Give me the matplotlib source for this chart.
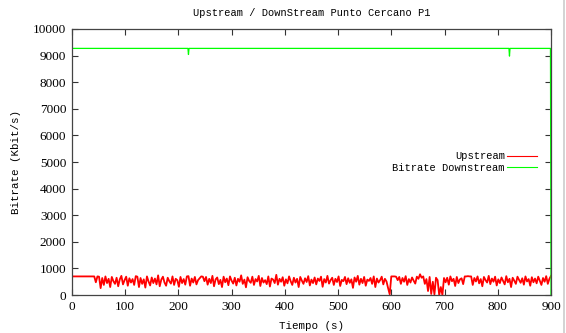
import matplotlib
matplotlib.use("Agg")
import matplotlib.pyplot as plt
from matplotlib.lines import Line2D
import numpy as np

# Upstream bitrate (Kbit/s), one sample every 3 s from 0 to 900 s
up_start = [700] * 15 + [480, 700, 690]
up_seg1 = [260, 640, 380, 700, 450, 610, 300, 680, 520, 420,
           650, 330, 590, 720, 400, 560, 690, 350, 630, 470,
           600, 380]
up_gap1 = [710, 690]
up_seg2 = [300, 640, 420, 590, 280, 700, 510, 360, 660, 450,
           620, 400, 740, 330, 580, 690, 470, 350, 650, 520,
           430, 700, 380, 610, 560, 310, 680, 450, 600, 390]
up_gap2 = [700, 710]
up_seg3 = [350, 620, 470, 680, 400, 560, 630]
up_gap3 = [700, 690]
up_seg4 = [520, 680, 390, 610, 450, 720, 330, 590, 660, 410,
           570, 300, 690, 480, 620, 370, 700, 540, 430, 650,
           360, 610, 500, 740, 420, 580, 290, 670, 530, 460,
           690, 380, 600, 510, 720, 340, 640, 470, 560, 410,
           700, 320, 620, 580, 450, 760, 390, 610, 500, 670,
           350, 590, 440, 700, 520, 380, 650, 470, 610, 300,
           680, 540, 420, 630, 490, 710, 360, 580, 450, 660,
           400, 620, 530, 690, 310, 600, 470, 720, 430, 560,
           650, 380, 610, 490, 700, 340, 570, 520, 680, 410,
           630, 460, 590, 270, 660, 500, 720, 390, 610, 450,
           680, 350, 580, 530, 640, 420, 700, 300, 620, 470,
           560, 690, 400, 610, 510, 260]
up_drop = [30, 700, 700, 700, 690]
up_seg5 = [560, 680, 420, 640, 500, 710, 380, 600, 470, 660, 540, 430, 690, 610]
up_dips = [780, 650, 700, 420, 600, 150, 680, 40, 500, 20, 650, 560, 0, 300, 0, 640]
up_seg6 = [480, 650, 390, 700, 520, 610, 340, 680, 450, 590, 630, 410]
up_gap4 = [700, 700, 710, 700, 700]
up_seg7 = [380, 640, 510, 700, 440, 600, 330, 680, 560, 470,
           720, 410, 620, 500, 690, 360, 590, 450, 660, 530,
           400, 710, 480, 610, 300, 650, 540, 420, 690, 570,
           460, 630, 390, 700, 510, 600, 350, 670, 480, 620,
           440, 690, 530, 380, 640, 500, 710, 420, 610, 720]

up_rate = (up_start + up_seg1 + up_gap1 + up_seg2 + up_gap2 + up_seg3 + up_gap3
           + up_seg4 + up_drop + up_seg5 + up_dips + up_seg6 + up_gap4 + up_seg7)
up_time = np.arange(len(up_rate)) * 3

# Downstream bitrate (Kbit/s)
down_time = [0, 218, 219, 220, 821, 822, 823, 899, 900]
down_rate = [9270, 9270, 9040, 9270, 9270, 8980, 9270, 9270, 0]

mono = "Liberation Mono"
serif = "Liberation Serif"

fig = plt.figure(figsize=(5.66, 3.33), dpi=100)
ax = fig.add_axes([0.127, 0.114, 0.8465, 0.799])

ax.plot(up_time, up_rate, color="#ff0000", lw=1.3)
ax.plot(down_time, down_rate, color="#00ff00", lw=0.9)

ax.set_xlim(0, 900)
ax.set_ylim(0, 10000)
ax.set_xticks(range(0, 901, 100))
ax.set_yticks(range(0, 10001, 1000))
ax.tick_params(direction="in", length=4, width=0.8, top=True, right=True,
               labelsize=9.5, pad=4, color="#333333")
for lab in ax.get_xticklabels() + ax.get_yticklabels():
    lab.set_fontfamily(serif)
for s in ax.spines.values():
    s.set_color("#444444")
    s.set_linewidth(0.9)

ax.set_title("Upstream / DownStream Punto Cercano P1", fontfamily=mono,
             fontsize=7.5, pad=9)
ax.set_xlabel("Tiempo (s)", fontfamily=mono, fontsize=7.8, labelpad=6)
ax.set_ylabel("Bitrate (Kbit/s)", fontfamily=mono, fontsize=7.8, labelpad=9)

# thin legend samples like the original
handles = [Line2D([], [], color="#ff0000", lw=0.8),
           Line2D([], [], color="#00ff00", lw=0.8)]
ax.legend(handles, ["Upstream", "Bitrate Downstream"],
          loc="center right", bbox_to_anchor=(0.98, 0.5), markerfirst=False,
          frameon=False, prop={"family": mono, "size": 7.5},
          handlelength=2.9, handletextpad=0.2, labelspacing=0.15,
          borderaxespad=0)

fig.add_artist(Line2D([0.996, 0.996], [0, 1], color="#cccccc", lw=1.2,
                      transform=fig.transFigure))

fig.savefig("out.png", dpi=100)
